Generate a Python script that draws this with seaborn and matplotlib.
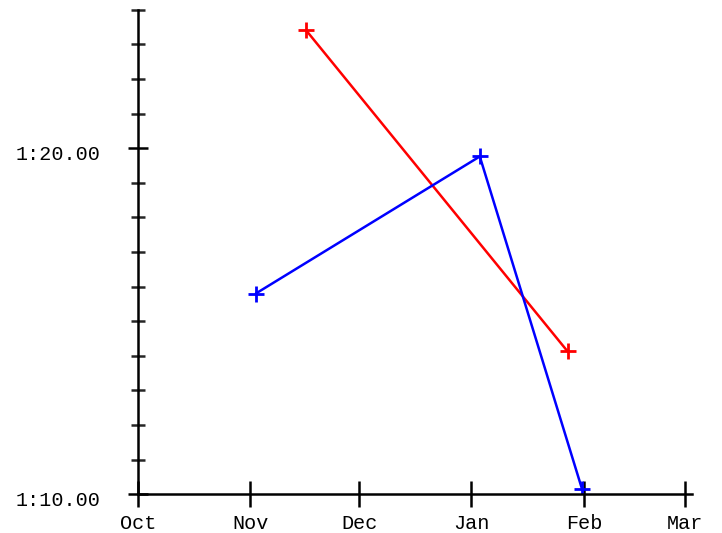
import numpy as np
import pandas as pd
import seaborn as sns
import matplotlib.pyplot as plt
import matplotlib.dates as mdates
from matplotlib.ticker import FuncFormatter, MultipleLocator
from matplotlib.transforms import ScaledTranslation

# two series: date of run and time in minutes
red_dates = ["2022-11-16 10:00", "2023-01-27 12:00"]
red_minutes = [83.40, 74.13]
blue_dates = ["2022-11-02 12:00", "2023-01-03 07:00", "2023-01-31 12:00"]
blue_minutes = [75.80, 79.76, 70.15]

red = pd.DataFrame({"date": pd.to_datetime(red_dates), "minutes": red_minutes})
blue = pd.DataFrame({"date": pd.to_datetime(blue_dates), "minutes": blue_minutes})

sns.set_style("white")
plt.rcParams['font.family'] = ['Liberation Mono', 'DejaVu Sans Mono']

fig = plt.figure(figsize=(7.22, 5.33), dpi=100)
ax = fig.add_axes([138 / 722, 1 - 494.3 / 533, (692 - 138) / 722, (494.3 - 9.7) / 533])

sns.lineplot(data=red, x="date", y="minutes", color="red", marker="+",
             markersize=11, markeredgewidth=2, markeredgecolor="red", linewidth=1.8, ax=ax)
sns.lineplot(data=blue, x="date", y="minutes", color="blue", marker="+",
             markersize=11, markeredgewidth=2, markeredgecolor="blue", linewidth=1.8, ax=ax)

ax.set_xlim(pd.Timestamp("2022-10-01"), pd.Timestamp("2023-03-02 20:00"))
ax.set_ylim(70, 84)
ax.set_xlabel("")
ax.set_ylabel("")

ax.xaxis.set_major_locator(mdates.MonthLocator())
ax.xaxis.set_major_formatter(mdates.DateFormatter("%b"))
ax.yaxis.set_major_locator(MultipleLocator(10))
ax.yaxis.set_minor_locator(MultipleLocator(1))
ax.yaxis.set_major_formatter(FuncFormatter(lambda v, p: f"{int(v // 60)}:{int(v % 60):02d}.00"))

for s in ["top", "right"]:
    ax.spines[s].set_visible(False)
for s in ["left", "bottom"]:
    ax.spines[s].set_linewidth(1.8)
    ax.spines[s].set_color("black")

ax.tick_params(axis="x", which="major", direction="inout", length=19.4, width=1.8,
               pad=4.5, labelsize=14.5, colors="black", bottom=True)
ax.tick_params(axis="y", which="major", direction="inout", length=13.7, width=1.8,
               pad=20.5, labelsize=14.5, colors="black", left=True)
ax.tick_params(axis="y", which="minor", direction="inout", length=9.4, width=1.8, left=True)

off = ScaledTranslation(0, -4 / 100, fig.dpi_scale_trans)
for lab in ax.get_yticklabels():
    lab.set_transform(lab.get_transform() + off)

fig.savefig("out.png", dpi=100)
